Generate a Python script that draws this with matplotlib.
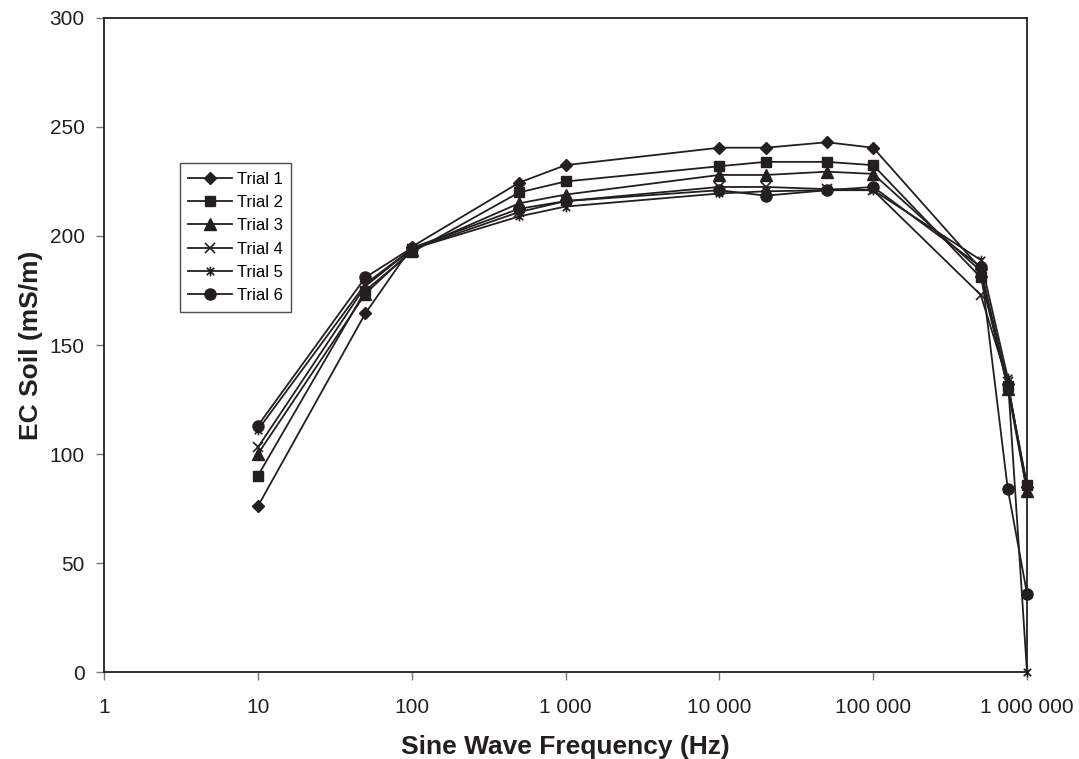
import matplotlib.pyplot as plt
import numpy as np
from matplotlib.path import Path
from matplotlib.ticker import FixedLocator, FuncFormatter, NullLocator

plt.rcParams['font.family'] = ['Liberation Sans', 'DejaVu Sans']

freq = [10, 50, 100, 500, 1000, 10000, 20000, 50000, 100000, 500000, 750000, 1000000]

trial1 = [76, 164.5, 195, 224.5, 232.5, 240.5, 240.5, 243, 240.5, 185, 132, 85]
trial2 = [90, 175, 192.5, 220, 225, 232, 234, 234, 232.5, 181, 131, 86]
trial3 = [100, 173.5, 193.5, 215, 219, 228, 228, 229.5, 228.5, 184, 130, 83]
trial4 = [103, 177, 194, 211, 216, 222.5, 222.5, 221.5, 221, 173, 133, 83]
trial5 = [111, 178, 194, 209, 213.5, 219.5, 220.5, 221, 221, 189, 135, 0]
trial6 = [113, 181, 194.5, 212.5, 216, 221, 218.5, 221, 222.5, 186, 84, 36]

labels = ['Trial 1', 'Trial 2', 'Trial 3', 'Trial 4', 'Trial 5', 'Trial 6']

# Excel-style asterisk: an x with a vertical bar through it
asterisk = Path([(-1, -1), (1, 1), (-1, 1), (1, -1), (0, -1.3), (0, 1.3)],
                [Path.MOVETO, Path.LINETO, Path.MOVETO, Path.LINETO, Path.MOVETO, Path.LINETO])

styles = [
    dict(marker='D', ms=6),
    dict(marker='s', ms=7.5),
    dict(marker='^', ms=8),
    dict(marker='x', ms=7, mew=1.2),
    dict(marker=asterisk, ms=7, mew=1.2),
    dict(marker='o', ms=8),
]

fig = plt.figure(figsize=(10.79, 7.59), dpi=100)
ax = fig.add_axes([0.0964, 0.1146, 0.8554, 0.8617])

for y, lab, st in zip([trial1, trial2, trial3, trial4, trial5, trial6], labels, styles):
    ax.plot(freq, y, color='#231f20', lw=1.3, mfc='#231f20', mec='#231f20',
            label=lab, clip_on=False, zorder=3, **st)

ax.set_xscale('log')
ax.set_xlim(1, 1e6)
ax.set_ylim(0, 300)
ax.xaxis.set_major_locator(FixedLocator([1, 10, 100, 1e3, 1e4, 1e5, 1e6]))
ax.xaxis.set_minor_locator(NullLocator())
ax.xaxis.set_major_formatter(FuncFormatter(lambda v, p: f"{int(round(v)):,}".replace(',', ' ')))
ax.set_yticks(np.arange(0, 301, 50))

for s in ax.spines.values():
    s.set_color('#231f20')
    s.set_linewidth(1.3)

ax.tick_params(axis='x', direction='out', length=6, width=1, color='#777777',
               pad=13, labelsize=15, labelcolor='#231f20')
ax.tick_params(axis='y', direction='out', length=6, width=1, color='#777777',
               pad=8, labelsize=15, labelcolor='#231f20')

ax.set_xlabel('Sine Wave Frequency (Hz)', fontsize=19, fontweight='bold', color='#231f20', labelpad=13)
ax.set_ylabel('EC Soil (mS/m)', fontsize=19, fontweight='bold', color='#231f20', labelpad=5)

leg = ax.legend(loc='upper left', bbox_to_anchor=(0.0823, 0.778), borderaxespad=0,
                fontsize=12, frameon=True, fancybox=False, handlelength=2.6,
                handletextpad=0.3, labelspacing=0.5, borderpad=0.5)
leg.get_frame().set_edgecolor('#231f20')
leg.get_frame().set_linewidth(1.0)
leg.set_zorder(5)

fig.savefig('out.png', dpi=100)
